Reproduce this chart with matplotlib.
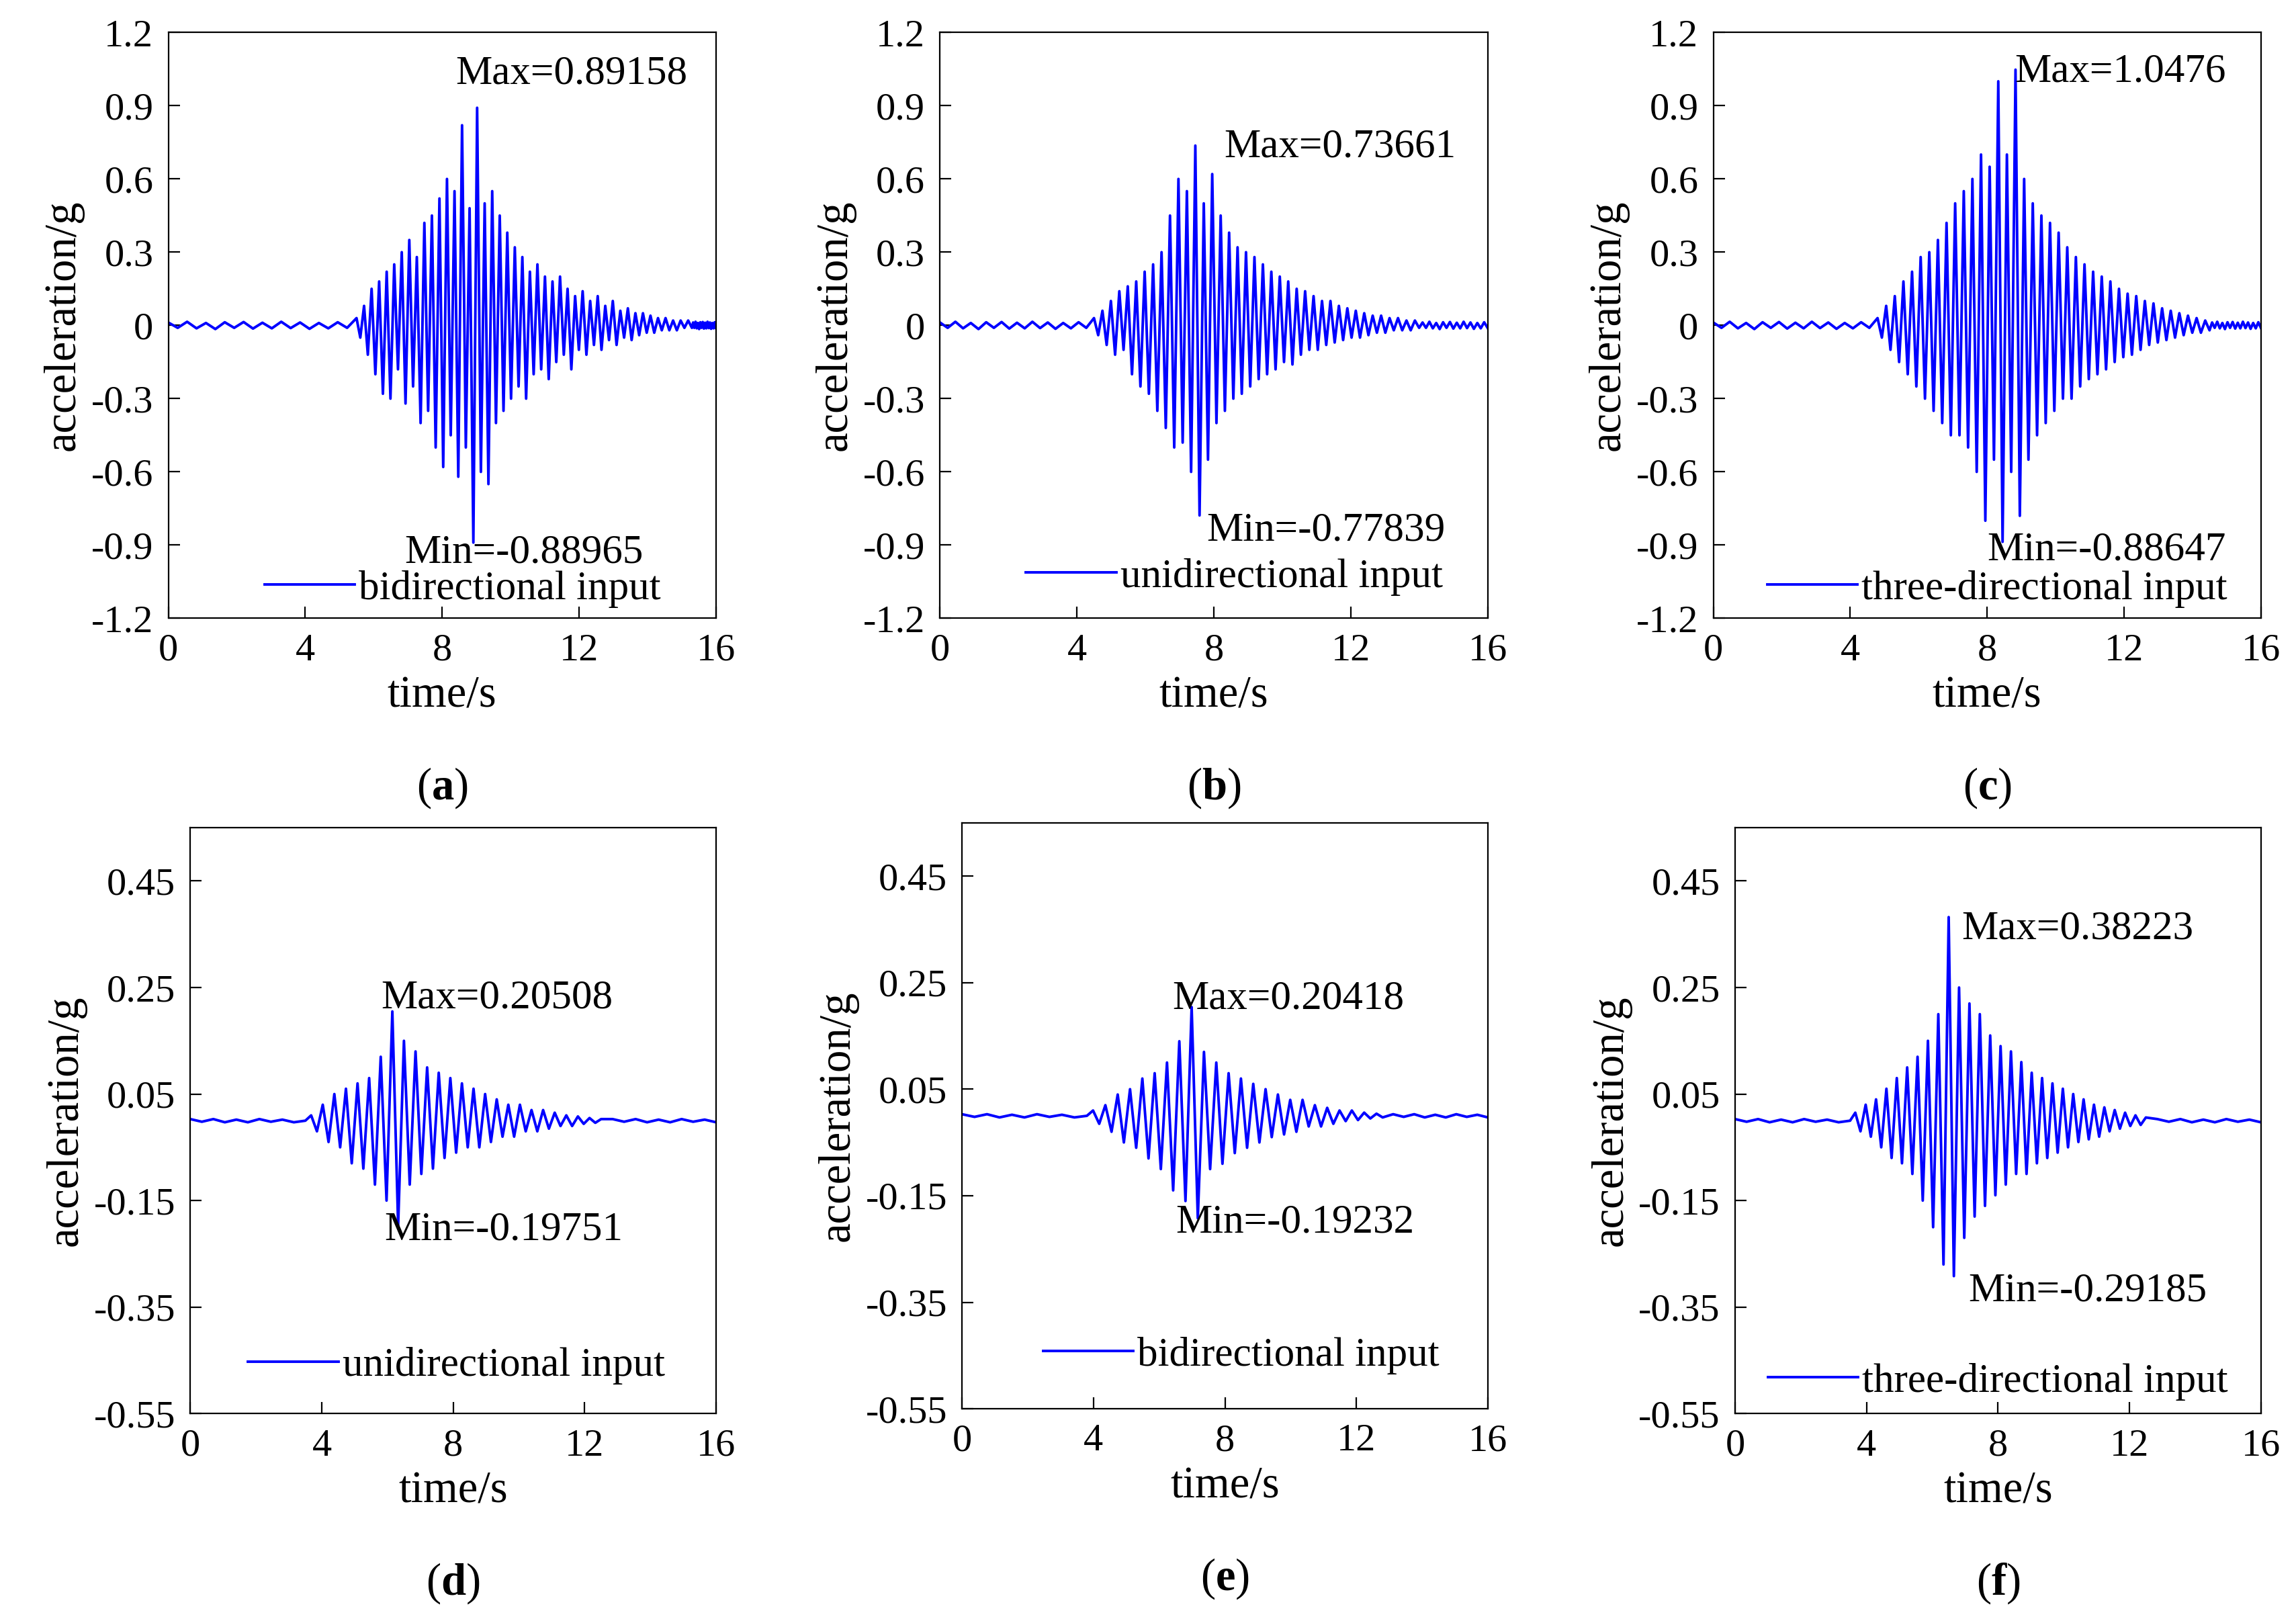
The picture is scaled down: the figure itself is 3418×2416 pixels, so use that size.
import numpy as np
import matplotlib
matplotlib.use("Agg")
import matplotlib.pyplot as plt

plt.rcParams["font.family"] = "Liberation Serif"
plt.rcParams["mathtext.fontset"] = "custom"
plt.rcParams["mathtext.bf"] = "Liberation Serif:bold"
plt.rcParams["mathtext.rm"] = "Liberation Serif"

# quiet pre/post-event noise (read as roughly flat, small wiggle)
quiet = [0.012, -0.01, 0.015, -0.012, 0.01, -0.015, 0.013, -0.01, 0.014, -0.013,
         0.011, -0.012, 0.015, -0.011, 0.012, -0.014, 0.01, -0.012, 0.013, -0.01]
quiet_small = [0.003, -0.002, 0.003, -0.003, 0.002, -0.003, 0.003, -0.002, 0.002, -0.003]

# strong-motion windows (start, end) in s and sampled values in g
win_a = (5.5, 15.3)
acc_a = [0.03, -0.05, 0.08, -0.12, 0.15, -0.2, 0.18, -0.28, 0.22, -0.3, 0.25, -0.18, 0.3, -0.32,
         0.35, -0.25, 0.28, -0.4, 0.42, -0.35, 0.45, -0.5, 0.52, -0.58, 0.6, -0.45, 0.55, -0.62,
         0.82, -0.5, 0.48, -0.88965, 0.89158, -0.6, 0.5, -0.65, 0.55, -0.4, 0.45, -0.35, 0.38,
         -0.3, 0.32, -0.25, 0.28, -0.3, 0.22, -0.2, 0.25, -0.18, 0.2, -0.22, 0.18, -0.15, 0.2,
         -0.12, 0.15, -0.18, 0.12, -0.1, 0.14, -0.12, 0.1, -0.08, 0.12, -0.1, 0.08, -0.06, 0.1,
         -0.08, 0.06, -0.05, 0.07, -0.06, 0.05, -0.04, 0.05, -0.03, 0.04, -0.03, 0.03, -0.02,
         0.03, -0.02, 0.02, -0.02, 0.02, -0.01, 0.02, -0.01]
win_b = (4.5, 14.0)
acc_b = [0.03, -0.04, 0.06, -0.08, 0.1, -0.12, 0.14, -0.1, 0.16, -0.2, 0.18, -0.25, 0.22, -0.28,
         0.25, -0.35, 0.3, -0.42, 0.45, -0.5, 0.6, -0.48, 0.55, -0.6, 0.73661, -0.77839, 0.5,
         -0.55, 0.62, -0.4, 0.45, -0.35, 0.38, -0.3, 0.32, -0.28, 0.3, -0.25, 0.28, -0.22, 0.25,
         -0.2, 0.22, -0.18, 0.2, -0.15, 0.18, -0.16, 0.15, -0.12, 0.14, -0.1, 0.12, -0.1, 0.1,
         -0.08, 0.1, -0.07, 0.08, -0.06, 0.07, -0.05, 0.06, -0.05, 0.05, -0.04, 0.04, -0.03, 0.04,
         -0.03, 0.03, -0.02, 0.03, -0.02, 0.02, -0.02, 0.02, -0.01]
win_c = (4.8, 14.5)
acc_c = [0.03, -0.05, 0.08, -0.1, 0.12, -0.15, 0.18, -0.2, 0.22, -0.25, 0.28, -0.3, 0.3, -0.35,
         0.35, -0.4, 0.42, -0.45, 0.5, -0.45, 0.55, -0.5, 0.6, -0.6, 0.7, -0.8, 0.65, -0.55, 1.0,
         -0.88647, 0.7, -0.6, 1.0476, -0.78, 0.6, -0.55, 0.5, -0.45, 0.45, -0.4, 0.42, -0.35, 0.38,
         -0.3, 0.32, -0.3, 0.28, -0.25, 0.25, -0.22, 0.22, -0.2, 0.2, -0.18, 0.18, -0.15, 0.15,
         -0.13, 0.13, -0.12, 0.12, -0.1, 0.1, -0.08, 0.09, -0.07, 0.07, -0.06, 0.06, -0.05, 0.05,
         -0.04, 0.04, -0.03, 0.03, -0.03, 0.02, -0.02]
win_d = (3.5, 12.5)
acc_d = [0.0, 0.01, -0.02, 0.03, -0.04, 0.05, -0.05, 0.06, -0.08, 0.07, -0.09, 0.08, -0.12,
         0.12, -0.15, 0.20508, -0.19751, 0.15, -0.12, 0.13, -0.1, 0.1, -0.09, 0.09, -0.07, 0.08,
         -0.06, 0.07, -0.05, 0.06, -0.05, 0.05, -0.04, 0.04, -0.03, 0.03, -0.03, 0.03, -0.02, 0.02,
         -0.02, 0.02, -0.015, 0.015, -0.01, 0.01, -0.01, 0.008, -0.006, 0.005, -0.004, 0.003]
win_e = (3.8, 12.8)
acc_e = [0.0, 0.01, -0.015, 0.02, -0.03, 0.04, -0.05, 0.05, -0.06, 0.07, -0.08, 0.08, -0.1,
         0.1, -0.14, 0.14, -0.16, 0.20418, -0.19232, 0.12, -0.1, 0.1, -0.09, 0.08, -0.07, 0.07,
         -0.06, 0.06, -0.05, 0.05, -0.04, 0.04, -0.035, 0.03, -0.03, 0.03, -0.02, 0.02, -0.02,
         0.015, -0.015, 0.01, -0.01, 0.01, -0.008, 0.006, -0.005, 0.004, -0.003]
win_f = (3.5, 12.5)
acc_f = [0.0, 0.015, -0.02, 0.03, -0.03, 0.04, -0.05, 0.06, -0.07, 0.08, -0.08, 0.1, -0.1,
         0.12, -0.15, 0.15, -0.2, 0.2, -0.27, 0.38223, -0.29185, 0.25, -0.22, 0.22, -0.18, 0.2,
         -0.16, 0.16, -0.14, 0.14, -0.12, 0.13, -0.1, 0.11, -0.1, 0.09, -0.08, 0.08, -0.07, 0.07,
         -0.06, 0.06, -0.05, 0.05, -0.04, 0.04, -0.035, 0.03, -0.03, 0.025, -0.02, 0.02, -0.015,
         0.015, -0.01, 0.01, -0.008, 0.006]

labels = ["bidirectional input", "unidirectional input", "three-directional input",
          "unidirectional input", "bidirectional input", "three-directional input"]
max_text = ["Max=0.89158", "Max=0.73661", "Max=1.0476", "Max=0.20508", "Max=0.20418", "Max=0.38223"]
min_text = ["Min=-0.88965", "Min=-0.77839", "Min=-0.88647", "Min=-0.19751", "Min=-0.19232", "Min=-0.29185"]
tags = ["a", "b", "c", "d", "e", "f"]

windows = [win_a, win_b, win_c, win_d, win_e, win_f]
accs = [acc_a, acc_b, acc_c, acc_d, acc_e, acc_f]


def build(win, acc, q):
    t0, t1 = win
    tq0 = np.linspace(0, t0, len(q), endpoint=False)
    ta = np.linspace(t0, t1, len(acc))
    tq1 = np.linspace(t1, 16, len(q) + 1)[1:]
    return np.concatenate([tq0, ta, tq1]), np.concatenate([q, acc, q])


fig = plt.figure(figsize=(17.09, 12.08), dpi=200)
rects = [(0.0733, 0.619, 0.2385, 0.361), (0.4094, 0.619, 0.2385, 0.361), (0.7462, 0.619, 0.2385, 0.361),
         (0.0829, 0.129, 0.229, 0.361), (0.4190, 0.132, 0.229, 0.361), (0.7557, 0.129, 0.229, 0.361)]
max_pos = [(8.4, 1.03), (8.3, 0.73), (8.8, 1.04), (5.8, 0.23), (6.4, 0.22), (6.9, 0.36)]
min_pos = [(6.9, -0.93), (7.8, -0.84), (8.0, -0.92), (5.9, -0.205), (6.5, -0.2), (7.1, -0.32)]
leg_pos = [(8.6, -1.08), (8.6, -1.03), (8.3, -1.08), (8.1, -0.46), (8.5, -0.45), (8.0, -0.49)]

for i in range(6):
    ax = fig.add_axes(rects[i])
    q = quiet if i < 3 else quiet_small
    t, a = build(windows[i], accs[i], q)
    ax.plot(t, a, color="#0000ff", lw=1.4, label=labels[i])
    ax.set_xlim(0, 16)
    ax.set_xticks([0, 4, 8, 12, 16])
    if i < 3:
        ax.set_ylim(-1.2, 1.2)
        ax.set_yticks(np.arange(-1.2, 1.21, 0.3))
        ax.set_yticklabels(["-1.2", "-0.9", "-0.6", "-0.3", "0", "0.3", "0.6", "0.9", "1.2"])
    else:
        ax.set_ylim(-0.55, 0.55)
        ax.set_yticks([-0.55, -0.35, -0.15, 0.05, 0.25, 0.45])
        ax.set_yticklabels(["-0.55", "-0.35", "-0.15", "0.05", "0.25", "0.45"])
    ax.tick_params(labelsize=21, direction="in", length=6, pad=8)
    ax.set_xlabel("time/s", fontsize=24, labelpad=4)
    ax.set_ylabel("acceleration/g", fontsize=24, labelpad=4)
    ax.text(*max_pos[i], max_text[i], fontsize=22, va="center")
    ax.text(*min_pos[i], min_text[i], fontsize=22, va="center")
    ax.legend(loc="center", bbox_to_anchor=leg_pos[i], bbox_transform=ax.transData,
              frameon=False, fontsize=22, handlelength=2.2, handletextpad=0.1,
              borderpad=0, borderaxespad=0)
    ax.text(0.5, -0.29, r"($\mathbf{" + tags[i] + r"}$)", transform=ax.transAxes,
            ha="center", va="center", fontsize=24)

fig.savefig("out.png", dpi=200)
